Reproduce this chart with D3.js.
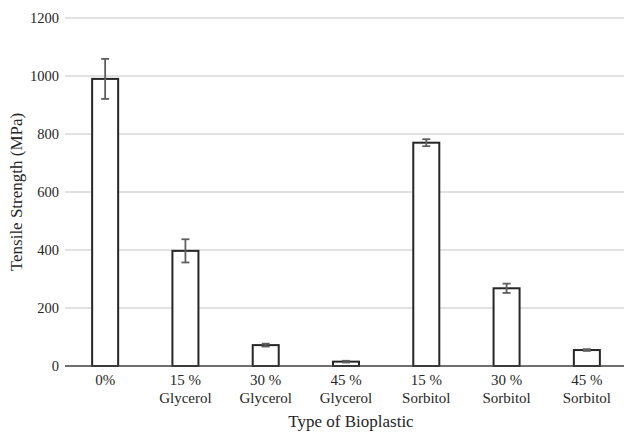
<!DOCTYPE html>
<html>
<head>
<meta charset="utf-8">
<script src="https://cdn.jsdelivr.net/npm/d3@7"></script>
<style>
  body { margin: 0; background: #fff; }
  svg text { font-family: "Liberation Serif", Tinos, "DejaVu Serif", serif; fill: #262626; }
</style>
</head>
<body>
<svg width="624" height="432"></svg>
<script>
// data
const categories = [["0%"], ["15 %", "Glycerol"], ["30 %", "Glycerol"], ["45 %", "Glycerol"],
                    ["15 %", "Sorbitol"], ["30 %", "Sorbitol"], ["45 %", "Sorbitol"]];
const values = [990, 397, 72, 15, 770, 268, 55];
const errors = [69, 40, 5, 3, 12, 16, 3];
const yTicks = [0, 200, 400, 600, 800, 1000, 1200];

const svg = d3.select("svg").attr("font-family", "'Liberation Serif', Tinos, 'DejaVu Serif', serif");
const ids = categories.map((c, i) => i);

const x = d3.scaleBand().domain(ids).range([65, 627]).paddingInner(0.676).paddingOuter(0.338);
const y = d3.scaleLinear().domain([0, 1200]).range([366, 18]);

// gridlines
svg.append("g")
  .selectAll("line")
  .data(yTicks.filter(t => t > 0))
  .join("line")
  .attr("x1", 65).attr("x2", 624)
  .attr("y1", d => y(d)).attr("y2", d => y(d))
  .attr("stroke", "#d9d9d9")
  .attr("stroke-width", 1.5);

// y tick labels
svg.append("g")
  .selectAll("text")
  .data(yTicks)
  .join("text")
  .attr("x", 59)
  .attr("y", d => y(d))
  .attr("dy", "0.35em")
  .attr("text-anchor", "end")
  .attr("font-size", 14.5)
  .text(d => d);

// bars
svg.append("g")
  .selectAll("rect")
  .data(ids)
  .join("rect")
  .attr("x", i => x(i))
  .attr("width", x.bandwidth())
  .attr("y", i => y(values[i]))
  .attr("height", i => y(0) - y(values[i]))
  .attr("fill", "#fff")
  .attr("stroke", "#262626")
  .attr("stroke-width", 2);

// baseline
svg.append("line")
  .attr("x1", 65).attr("x2", 624)
  .attr("y1", y(0)).attr("y2", y(0))
  .attr("stroke", "#404040")
  .attr("stroke-width", 1.5);

// error bars
const eb = svg.append("g").attr("stroke", "#5f5f5f").attr("stroke-width", 1.8);
ids.forEach(i => {
  const cx = x(i) + x.bandwidth() / 2;
  const hi = y(values[i] + errors[i]);
  const lo = y(values[i] - errors[i]);
  eb.append("line").attr("x1", cx).attr("x2", cx).attr("y1", hi).attr("y2", lo);
  eb.append("line").attr("x1", cx - 4).attr("x2", cx + 4).attr("y1", hi).attr("y2", hi);
  eb.append("line").attr("x1", cx - 4).attr("x2", cx + 4).attr("y1", lo).attr("y2", lo);
});

// category labels
const lab = svg.append("g")
  .selectAll("text")
  .data(ids)
  .join("text")
  .attr("text-anchor", "middle")
  .attr("font-size", 15);
lab.each(function(i) {
  d3.select(this).selectAll("tspan")
    .data(categories[i])
    .join("tspan")
    .attr("x", x(i) + x.bandwidth() / 2)
    .attr("y", (d, k) => 385 + k * 17.5)
    .text(d => d);
});

// axis titles
svg.append("text")
  .attr("x", 351).attr("y", 427)
  .attr("text-anchor", "middle")
  .attr("font-size", 17)
  .text("Type of Bioplastic");

svg.append("text")
  .attr("transform", "translate(22,192) rotate(-90)")
  .attr("text-anchor", "middle")
  .attr("font-size", 17)
  .text("Tensile Strength (MPa)");
</script>
</body>
</html>
